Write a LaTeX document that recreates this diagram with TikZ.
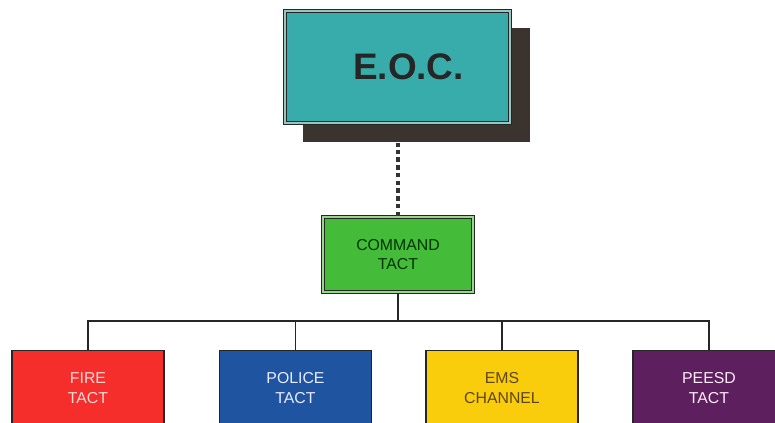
\documentclass[tikz,border=0pt]{standalone}
\usepackage{fontspec}
\setmainfont{Liberation Sans}
\usetikzlibrary{positioning,calc}
\definecolor{eoccolor}{RGB}{56, 172, 170}
\definecolor{eocedge}{RGB}{150, 200, 195}
\definecolor{shadowcolor}{RGB}{59, 52, 46}
\definecolor{cmdcolor}{RGB}{68, 188, 58}
\definecolor{cmdedge}{RGB}{150, 215, 140}
\definecolor{firecolor}{RGB}{245, 46, 44}
\definecolor{policecolor}{RGB}{30, 84, 160}
\definecolor{emscolor}{RGB}{250, 205, 12}
\definecolor{emstext}{RGB}{92, 70, 22}
\definecolor{peesdcolor}{RGB}{94, 31, 94}

\begin{document}
\begin{tikzpicture}[
        box/.style={rectangle, draw=black!85, line width=0.8pt, minimum width=3.04cm, align=center, font=\fontsize{9}{11}\selectfont},
        dblbox/.style={box, line width=1pt, double=#1, double distance=0.8pt},
        unit/.style={box, minimum height=1.5cm, anchor=north},
        link/.style={line width=0.9pt, draw=black!85},
        dotlink/.style={line width=2pt, dash pattern=on 2.6pt off 1.8pt, draw=black!80}
    ]
        \useasboundingbox (0,0) rectangle (15.5,8.46);

        % E.O.C. with its shadow
        \node[rectangle, fill=shadowcolor, minimum width=4.54cm, minimum height=2.28cm] (eoc_shadow) at (8.33,6.75) {};
        \node[dblbox=eocedge, fill=eoccolor, minimum width=4.5cm, minimum height=2.24cm, text=black!85,
              font=\fontsize{21}{24}\selectfont\bfseries] (eoc) at (7.95,7.12) {\hspace*{0.44cm}E.O.C.};

        % Command
        \node[dblbox=cmdedge, fill=cmdcolor, minimum width=3.0cm, minimum height=1.5cm, text=black!80!green] (cmd) at (7.96,3.37) {COMMAND\\TACT};
        \draw[dotlink] (cmd.north) -- (cmd.north |- eoc_shadow.south);

        % Units
        \node[unit, fill=firecolor, text=red!15!white] (fire) at (1.76,1.46) {FIRE\\TACT};
        \node[unit, fill=policecolor, text=blue!8!white] (police) at (5.91,1.46) {POLICE\\TACT};
        \node[unit, fill=emscolor, text=emstext] (ems) at (10.04,1.46) {EMS\\CHANNEL};
        \node[unit, fill=peesdcolor, text=white!92!magenta] (peesd) at (14.18,1.46) {PEESD\\TACT};

        % Tree lines
        \coordinate (bus) at ($(cmd.south)+(0,-0.56)$);
        \draw[link] (cmd.south) -- (bus);
        \draw[link] (fire.north) |- (bus) -| (peesd.north);
        \draw[link] (police.north) -- (police.north |- bus);
        \draw[link] (ems.north) -- (ems.north |- bus);

    \end{tikzpicture}
\end{document}
